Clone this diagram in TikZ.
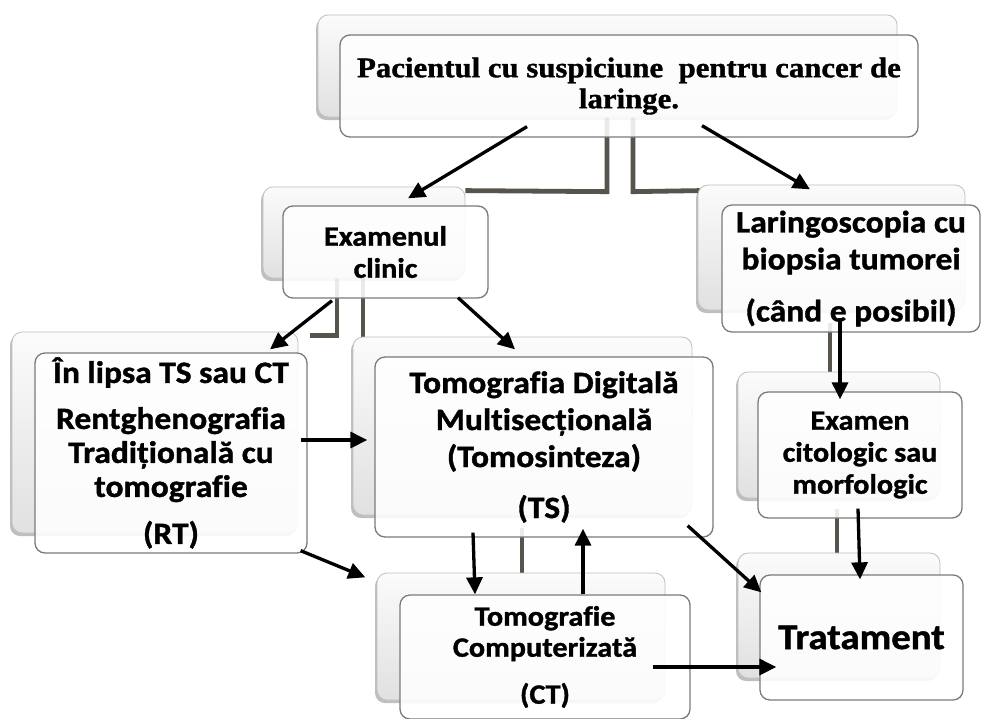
\documentclass[tikz,border=0pt]{standalone}
\usepackage{fontspec}
\setmainfont{Carlito}[FakeStretch=1.08, Ligatures=NoCommon, BoldFeatures={FakeBold=1.2}]
\newfontfamily\topfont{Liberation Serif}[FakeStretch=1.08, BoldFeatures={FakeBold=1.2}]
\usetikzlibrary{arrows.meta,shadows}
\definecolor{connc}{HTML}{57534D}
\definecolor{frameg}{HTML}{7A7A7A}
\pgfdeclarelayer{bg}
\pgfsetlayers{bg,main}
\begin{document}
\begin{tikzpicture}[x=1pt,y=-1pt,
  bk/.style={rounded corners=10pt, draw=gray!50, line width=0.8pt,
    top color=gray!3, bottom color=gray!24,
    drop shadow={shadow xshift=-2pt, shadow yshift=-3pt, opacity=0.25, fill=black},
    inner sep=0pt},
  fr/.style={rounded corners=10pt, draw=frameg, line width=1.3pt,
    fill=white, fill opacity=0.88, text opacity=1, align=center, inner sep=0pt},
  arr/.style={line width=3.3pt, -{Triangle[length=17pt,width=16pt]}},
  conn/.style={draw=connc, line width=4.8pt}]
\path[use as bounding box] (0,0) rectangle (981,718);

% back boxes
\node[bk, minimum width=579pt, minimum height=102pt] (topb) at (607.5,66) {};
\node[bk, minimum width=202pt, minimum height=91pt] (exb) at (364,232.5) {};
\node[bk, minimum width=267pt, minimum height=125pt] (larb) at (831.5,247.5) {};
\node[bk, minimum width=286pt, minimum height=201pt] (rtb) at (155,432.5) {};
\node[bk, minimum width=339pt, minimum height=178pt] (tsb) at (522.5,426) {};
\node[bk, minimum width=288pt, minimum height=127pt] (ctb) at (521,636.5) {};
\node[bk, minimum width=202pt, minimum height=126pt] (ecb) at (839,435) {};
\node[bk, minimum width=202pt, minimum height=125pt] (trb) at (839,615.5) {};

% front boxes
\node[fr, minimum width=578pt, minimum height=102pt,
  font={\topfont\bfseries\fontsize{28.5pt}{31pt}\selectfont}] (top) at (629,86)
  {Pacientul cu suspiciune~ pentru cancer de\\laringe.};
\node[fr, minimum width=205pt, minimum height=92pt,
  font={\bfseries\fontsize{28pt}{32pt}\selectfont}] (ex) at (385.5,252)
  {Examenul\\clinic};
\node[fr, minimum width=258pt, minimum height=127pt,
  font={\bfseries\fontsize{31pt}{37pt}\selectfont}] (lar) at (851,268.5)
  {Laringoscopia cu\\biopsia tumorei\\[15pt](când e posibil)};
\node[fr, minimum width=272pt, minimum height=200pt,
  font={\bfseries\fontsize{31pt}{34pt}\selectfont}] (rt) at (171,453)
  {În lipsa TS sau CT\\[12pt]Rentghenografia\\Tradițională cu\\tomografie\\[13pt](RT)};
\node[fr, minimum width=338pt, minimum height=180pt,
  font={\bfseries\fontsize{31pt}{37pt}\selectfont}] (ts) at (544,447)
  {Tomografia Digitală\\Multisecțională\\(Tomosinteza)\\[14pt](TS)};
\node[fr, minimum width=290pt, minimum height=124pt,
  font={\bfseries\fontsize{28pt}{31pt}\selectfont}] (ct) at (545,657)
  {Tomografie\\Computerizată\\[16pt](CT)};
\node[fr, minimum width=204pt, minimum height=126pt,
  font={\bfseries\fontsize{28pt}{32pt}\selectfont}] (ec) at (860,455)
  {Examen\\citologic sau\\morfologic};
\node[fr, minimum width=203pt, minimum height=125pt,
  font={\bfseries\fontsize{36pt}{40pt}\selectfont}] (tr) at (861.5,637.5)
  {Tratament};

% hierarchy connectors (behind)
\begin{pgfonlayer}{bg}
\draw[conn] ([shift={(-22,-20)}]top.south) -- ++(0,74) -- ([shift={(0,4)}]exb.north east);
\draw[conn] ([shift={(4,-20)}]top.south) -- ++(0,74) -- ([shift={(2,6)}]larb.north west);
\draw[conn] ([shift={(-27,0)}]exb.south) -- ++(0,57) -- ++(-27,0);
\draw[conn] ([shift={(-1,0)}]exb.south) -- ++(0,59);
\draw[conn] ([shift={(-22,-10)}]ts.south) -- ([shift={(1,0)}]ctb.north);
\draw[conn] ([shift={(-21,-10)}]lar.south) -- ([shift={(-9,0)}]ecb.north);
\draw[conn] ([shift={(-23,-10)}]ec.south) -- ([shift={(-2,0)}]trb.north);
\end{pgfonlayer}

% arrows
\draw[arr] ([shift={(-102,-11)}]top.south) -- ([shift={(22.5,-7)}]ex.north);
\draw[arr] ([shift={(73,-12)}]top.south) -- ([shift={(-41,-15)}]lar.north);
\draw[arr] ([shift={(-53.5,2)}]ex.south) -- ([shift={(99,-3)}]rt.north);
\draw[arr] ([shift={(72.5,-1)}]ex.south) -- ([shift={(-29,-7)}]ts.north);
\draw[arr] ([shift={(-7,-13)}]rt.east) -- ([shift={(-7,-7)}]ts.west);
\draw[arr] ([shift={(-7,-3)}]rt.south east) -- ([shift={(-34,-17)}]ct.north west);
\draw[arr] ([shift={(-71,-5)}]ts.south) -- ([shift={(-70,0)}]ct.north);
\draw[arr] ([shift={(38,0)}]ct.north) -- ([shift={(39,-9)}]ts.south);
\draw[arr] ([shift={(-26,-12)}]ts.south east) -- ([shift={(2,18)}]tr.north west);
\draw[arr] ([shift={(-38,10)}]ct.east) -- ([shift={(17,29.5)}]tr.west);
\draw[arr] ([shift={(-11,-15)}]lar.south) -- ([shift={(-20,8)}]ec.north);
\draw[arr] ([shift={(-2,-10)}]ec.south) -- ([shift={(-1.5,5)}]tr.north);
\end{tikzpicture}
\end{document}
